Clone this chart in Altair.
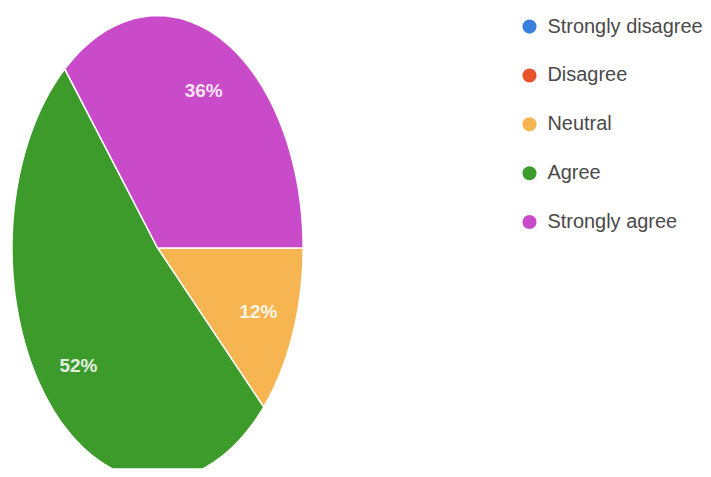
import math
import pandas as pd
import altair as alt

# ---- data ----
categories = ["Strongly disagree", "Disagree", "Neutral", "Agree", "Strongly agree"]
percent = [0, 0, 12, 52, 36]
colors = ["#3b7fdc", "#e9522d", "#f7b551", "#3d9b2c", "#c94bc9"]

# ---- layout (pixels in plot area) ----
W, H = 695, 461
CX, CY = 150, 240      # ellipse centre
RX, RY = 146, 233      # ellipse radii
LABEL_R = 0.745

# build ellipse wedge outlines (unit coordinates) from the percentages
rows = []
labels = []
cum = 0.0
idx = 0
for cat, p in zip(categories, percent):
    if p > 0:
        a0 = cum / 100 * 2 * math.pi
        a1 = (cum + p) / 100 * 2 * math.pi
        n = max(4, int(p * 3))
        rows.append({"category": cat, "idx": idx, "x": 0.0, "y": 0.0}); idx += 1
        for k in range(n + 1):
            a = a0 + (a1 - a0) * k / n
            rows.append({"category": cat, "idx": idx, "x": math.cos(a), "y": -math.sin(a)}); idx += 1
        rows.append({"category": cat, "idx": idx, "x": 0.0, "y": 0.0}); idx += 1
        am = (a0 + a1) / 2
        labels.append({"category": cat, "x": LABEL_R * math.cos(am),
                       "y": -LABEL_R * math.sin(am), "text": f"{p}%"})
    cum += p

poly = pd.DataFrame(rows)
lab = pd.DataFrame(labels)

x0 = -CX / RX
y0 = -(H - CY) / RY
xscale = alt.Scale(domain=[x0, x0 + W / RX], nice=False, zero=False)
yscale = alt.Scale(domain=[y0, y0 + H / RY], nice=False, zero=False)

wedges = alt.Chart(poly).mark_line(
    filled=True, stroke="white", strokeWidth=1.5, clip=True
).encode(
    x=alt.X("x:Q", scale=xscale, axis=None),
    y=alt.Y("y:Q", scale=yscale, axis=None),
    order=alt.Order("idx:Q"),
    detail="category:N",
    color=alt.Color(
        "category:N",
        scale=alt.Scale(domain=categories, range=colors),
        legend=alt.Legend(
            title=None, orient="none", legendX=513, legendY=8,
            symbolType="circle", symbolSize=200, symbolStrokeWidth=0,
            labelFontSize=20, labelFont="Liberation Sans", labelColor="#4a4a4a",
            rowPadding=29, labelOffset=8,
        ),
    ),
)

text = alt.Chart(lab).mark_text(
    font="Liberation Sans", fontSize=19, fontWeight="bold",
    color="white", opacity=0.85,
).encode(
    x=alt.X("x:Q", scale=xscale, axis=None),
    y=alt.Y("y:Q", scale=yscale, axis=None),
    text="text:N",
)

chart = alt.layer(wedges, text).properties(
    width=W, height=H, padding=0
).configure_view(stroke=None)

chart.save("out.html", embed_options={"renderer": "svg", "actions": False})
